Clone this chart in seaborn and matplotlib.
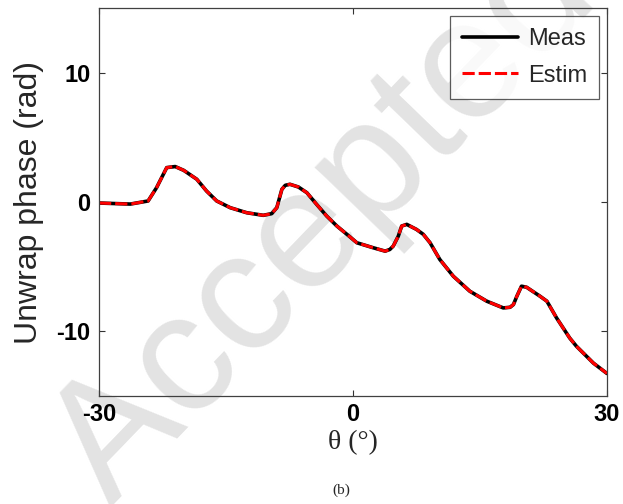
import numpy as np
import pandas as pd
import matplotlib
matplotlib.use("Agg")
import matplotlib.pyplot as plt
import seaborn as sns

# ---- data ----
theta = [-30.0, -26.3, -24.2, -23.2, -22.0, -21.0, -20.0, -18.45, -17.3, -16.1,
         -14.5, -12.55, -10.6, -9.6, -9.0, -8.4, -8.0, -7.45, -6.45, -5.45,
         -4.3, -3.1, -1.9, -0.35, 0.45, 2.4, 3.8, 4.35, 4.75, 5.35,
         5.75, 6.35, 7.5, 8.3, 9.1, 10.25, 11.85, 13.8, 15.8, 17.75,
         18.55, 18.95, 19.35, 19.9, 20.5, 22.1, 22.9, 24.05, 25.6, 26.4,
         28.4, 30.0]
meas = [-0.08, -0.16, 0.08, 1.11, 2.66, 2.74, 2.45, 1.76, 0.85, 0.08,
        -0.44, -0.83, -1.03, -0.90, -0.44, 0.98, 1.29, 1.37, 1.16, 0.72,
        -0.18, -1.09, -1.86, -2.70, -3.15, -3.54, -3.80, -3.67, -3.41, -2.64,
        -1.86, -1.73, -2.12, -2.50, -3.15, -4.44, -5.74, -6.90, -7.67, -8.19,
        -8.14, -7.93, -7.29, -6.51, -6.59, -7.29, -7.67, -8.97, -10.52, -11.16,
        -12.46, -13.26]
estim = [-0.08, -0.16, 0.08, 1.11, 2.66, 2.74, 2.45, 1.76, 0.85, 0.08,
         -0.44, -0.83, -1.03, -0.90, -0.44, 0.98, 1.29, 1.37, 1.16, 0.72,
         -0.18, -1.09, -1.86, -2.70, -3.15, -3.54, -3.80, -3.67, -3.41, -2.64,
         -1.86, -1.73, -2.12, -2.50, -3.15, -4.44, -5.74, -6.90, -7.67, -8.19,
         -8.14, -7.93, -7.29, -6.51, -6.59, -7.29, -7.67, -8.97, -10.52, -11.16,
         -12.46, -13.26]
series_names = ["Meas", "Estim"]
xticks = [-30, 0, 30]
yticks = [-10, 0, 10]

df = pd.DataFrame({"theta": theta, "Meas": meas, "Estim": estim})

sns.set_theme(style="white")
plt.rcParams["font.family"] = ["Liberation Sans", "DejaVu Sans"]

fig = plt.figure(figsize=(6.23, 5.04), dpi=100)
ax = fig.add_axes([99 / 623, 1 - 396 / 504, 508 / 623, 388 / 504])
ax.patch.set_alpha(0)
ax.set_zorder(1)

# watermark
fig.text(110 / 623, 1 - 508 / 504, "Accepted", rotation=46, rotation_mode="anchor",
         ha="left", va="baseline", fontsize=122, color="#e3e3e3",
         family=["Liberation Sans", "DejaVu Sans"], zorder=-5)

sns.lineplot(data=df, x="theta", y="Meas", ax=ax, color="black", lw=2.6,
             label=series_names[0])
sns.lineplot(data=df, x="theta", y="Estim", ax=ax, color="#ff0000", lw=2.2,
             dashes=False, label=series_names[1])
ax.lines[1].set_dashes((4, 1.3))
for ln in ax.lines:
    ln.set_solid_joinstyle("round")
    ln.set_dash_joinstyle("round")

ax.set_xlim(-30, 30)
ax.set_ylim(-15, 15)
ax.set_xticks(xticks)
ax.set_yticks(yticks)
ax.set_xticklabels([str(v) for v in xticks], fontsize=17, fontweight="bold")
ax.set_yticklabels([str(v) for v in yticks], fontsize=17, fontweight="bold")
ax.tick_params(direction="in", length=4, width=0.8, top=True, right=True,
               bottom=True, left=True, colors="#333333", labelcolor="black")
ax.tick_params(axis="x", pad=5)
ax.tick_params(axis="y", pad=6)

for s in ax.spines.values():
    s.set_visible(True)
    s.set_color("#404040")
    s.set_linewidth(0.9)

ax.set_ylabel("Unwrap phase (rad)", fontsize=23, labelpad=9)
ax.set_xlabel("θ (°)", fontsize=20, family=["Liberation Serif", "DejaVu Serif"],
              labelpad=3)

leg = ax.legend(loc="upper right", fontsize=17, frameon=True, fancybox=False,
                handlelength=2.4, handletextpad=0.4, borderpad=0.5,
                labelspacing=0.62, borderaxespad=0.35)
leg.get_frame().set_edgecolor("#333333")
leg.get_frame().set_linewidth(0.9)

fig.text(341 / 623, 1 - 490 / 504, "(b)", ha="center", va="center", fontsize=11,
         family=["Liberation Serif", "DejaVu Serif"])

fig.savefig("out.png", dpi=100)
